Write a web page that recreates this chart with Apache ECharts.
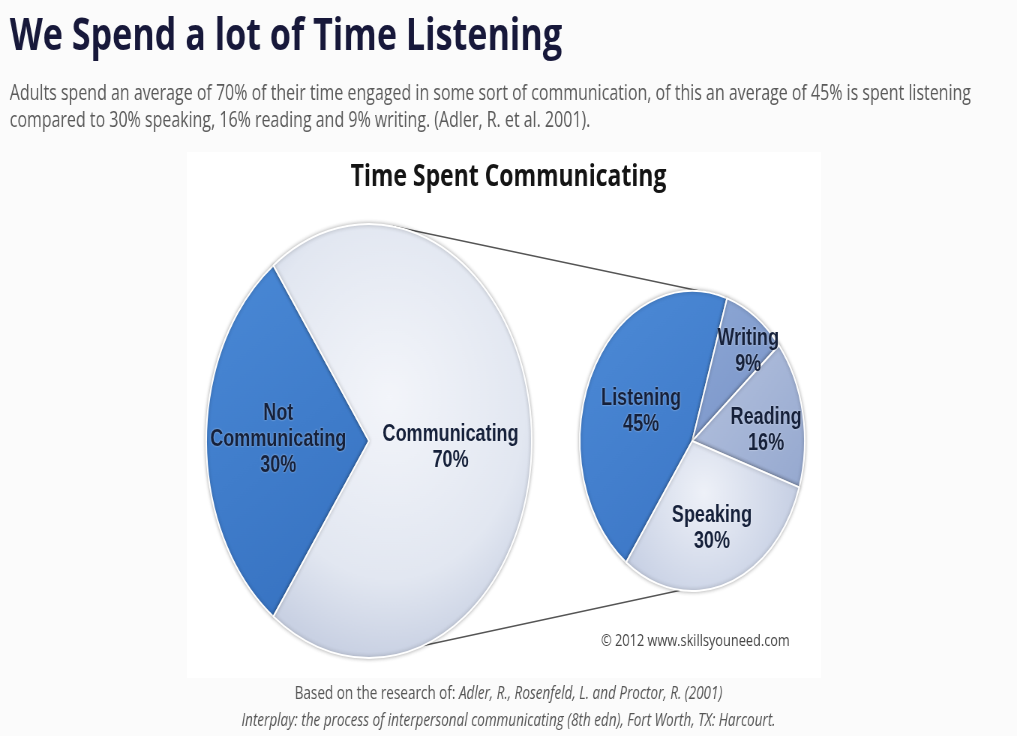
<!DOCTYPE html>
<html>
<head>
<meta charset="utf-8">
<script src="https://cdn.jsdelivr.net/npm/echarts@6/dist/echarts.min.js"></script>
<style>
  html, body { margin: 0; padding: 0; overflow: hidden; background: #fafafa; }
  #wrap { width: 1017px; height: 736px; overflow: hidden; }
  #chart { width: 1356px; height: 736px; transform: scaleX(0.75); transform-origin: 0 0; }
</style>
</head>
<body>
<div id="wrap"><div id="chart"></div></div>
<script>
// ---- data ----
const outerCategories = ['Not Communicating', 'Communicating'];
const outerValues = [30, 70];
const innerCategories = ['Listening', 'Writing', 'Reading', 'Speaking'];
const innerValues = [45, 9, 16, 30];

const mainTitle = 'We Spend a lot of Time Listening';
const introLines = [
  'Adults spend an average of 70% of their time engaged in some sort of communication, of this an average of 45% is spent listening',
  'compared to 30% speaking, 16% reading and 9% writing. (Adler, R. et al. 2001).'
];
const chartTitle = 'Time Spent Communicating';
const copyright = '\u00A9 2012 www.skillsyouneed.com';
const sourceLead = 'Based on the research of: ';
const sourceAuthors = 'Adler, R., Rosenfeld, L. and Proctor, R. (2001)';
const sourceBook = 'Interplay: the process of interpersonal communicating (8th edn), Fort Worth, TX: Harcourt.';

// ---- layout / style ----
const LEFT_C = [492, 441], LEFT_R = 217;
const RIGHT_C = [923, 441], RIGHT_R = 150;
const START_ANGLE = 234;
// label placement tweaks: radial scale and turn (degrees, + = counter-clockwise)
const LEFT_LABEL_SCALE = [1.085, 0.977];
const LEFT_LABEL_TURN = [-1, -3.4];
const RIGHT_LABEL_SCALE = [0.955, 1.49, 1.27, 1.17];
const RIGHT_LABEL_TURN = [3.2, -5.7, -4.5, -1.3];
const CONNECT = { leftTop: 81.6, rightTop: 77.7, leftBottom: -70.4, rightBottom: -96 };

const outerColors = [
  { type: 'linear', x: 0, y: 0, x2: 1, y2: 1, colorStops: [{ offset: 0, color: '#4a89d6' }, { offset: 1, color: '#3570bf' }] },
  { type: 'radial', x: 0.45, y: 0.4, r: 0.75, colorStops: [{ offset: 0, color: '#f3f5fa' }, { offset: 0.7, color: '#e2e7f1' }, { offset: 1, color: '#c9d1e3' }] }
];
const innerColors = [
  { type: 'linear', x: 0, y: 0, x2: 1, y2: 1, colorStops: [{ offset: 0, color: '#4d8bd7' }, { offset: 1, color: '#3a74c4' }] },
  { type: 'linear', x: 0, y: 0, x2: 1, y2: 1, colorStops: [{ offset: 0, color: '#8ea8d5' }, { offset: 1, color: '#7893c8' }] },
  { type: 'linear', x: 0, y: 0, x2: 1, y2: 1, colorStops: [{ offset: 0, color: '#b6c3df' }, { offset: 1, color: '#95a8cf' }] },
  { type: 'radial', x: 0.45, y: 0.35, r: 0.8, colorStops: [{ offset: 0, color: '#eef1f8' }, { offset: 1, color: '#c7d0e4' }] }
];

function pt(c, r, deg) {
  const a = deg * Math.PI / 180;
  return [c[0] + r * Math.cos(a), c[1] - r * Math.sin(a)];
}
function labelText(p) {
  return p.name.split(' ').join('\n') + '\n' + p.value + '%';
}
function placeLabel(center, scales, turns) {
  return function (p) {
    const lx = p.labelRect.x + p.labelRect.width / 2;
    const ly = p.labelRect.y + p.labelRect.height / 2;
    const vx = lx - center[0], vy = center[1] - ly;
    const d = Math.sqrt(vx * vx + vy * vy) * scales[p.dataIndex];
    const a = Math.atan2(vy, vx) + turns[p.dataIndex] * Math.PI / 180;
    const nx = center[0] + d * Math.cos(a), ny = center[1] - d * Math.sin(a);
    return { dx: nx - lx, dy: ny - ly };
  };
}

const labelStyle = {
  show: true,
  position: 'inside',
  formatter: labelText,
  fontFamily: 'Liberation Sans, Arial, sans-serif',
  fontWeight: 'bold',
  fontSize: 24,
  lineHeight: 26,
  color: '#15203a',
  textShadowColor: 'rgba(255,255,255,0.6)',
  textShadowBlur: 2
};
const sliceStyle = {
  borderColor: '#ffffff',
  borderWidth: 2,
  shadowBlur: 4,
  shadowColor: 'rgba(0,0,0,0.3)'
};

const t1 = pt(LEFT_C, LEFT_R, CONNECT.leftTop), t2 = pt(RIGHT_C, RIGHT_R, CONNECT.rightTop);
const b1 = pt(LEFT_C, LEFT_R, CONNECT.leftBottom), b2 = pt(RIGHT_C, RIGHT_R, CONNECT.rightBottom);

const footRich = {
  n: { fontFamily: 'Open Sans', fontWeight: 'normal', fontSize: 18, lineHeight: 27, color: '#555555' },
  i: { fontFamily: 'Open Sans', fontWeight: 'normal', fontStyle: 'italic', fontSize: 18, lineHeight: 27, color: '#555555' }
};

const chart = echarts.init(document.getElementById('chart'));
chart.setOption({
  backgroundColor: '#fbfbfb',
  animation: false,
  title: [
    { text: mainTitle, left: 13, top: 13, padding: 0,
      textStyle: { fontFamily: 'Open Sans', fontWeight: 'bold', fontSize: 45.5, lineHeight: 48, color: '#17183a' } },
    { text: introLines.join('\n'), left: 13, top: 80, padding: 0,
      textStyle: { fontFamily: 'Open Sans', fontWeight: 'normal', fontSize: 21.3, lineHeight: 27, color: '#595959' } },
    { text: chartTitle, left: 'center', top: 160, padding: 0,
      textStyle: { fontFamily: 'Open Sans', fontWeight: 'bold', fontSize: 30.6, lineHeight: 34, color: '#141414' } },
    { text: copyright, right: 303, top: 630, padding: 0,
      textStyle: { fontFamily: 'Open Sans', fontWeight: 'normal', fontSize: 17, lineHeight: 22, color: '#444444' } },
    { text: '{n|' + sourceLead + '}{i|' + sourceAuthors + '}\n{i|' + sourceBook + '}', left: 'center', top: 680, padding: 0,
      textStyle: { fontFamily: 'Open Sans', fontWeight: 'normal', fontSize: 18, lineHeight: 27, color: '#555555', rich: footRich } }
  ],
  graphic: [
    { type: 'rect', z: -10, silent: true, shape: { x: 249, y: 152, width: 846, height: 526 }, style: { fill: '#ffffff' } },
    { type: 'line', z: 1, silent: true, shape: { x1: t1[0], y1: t1[1], x2: t2[0], y2: t2[1] }, style: { stroke: '#555555', lineWidth: 1.6 } },
    { type: 'line', z: 1, silent: true, shape: { x1: b1[0], y1: b1[1], x2: b2[0], y2: b2[1] }, style: { stroke: '#555555', lineWidth: 1.6 } }
  ],
  series: [
    {
      name: 'All time', type: 'pie', center: LEFT_C, radius: LEFT_R,
      startAngle: START_ANGLE, clockwise: true, z: 3,
      label: labelStyle, labelLine: { show: false },
      labelLayout: placeLabel(LEFT_C, LEFT_LABEL_SCALE, LEFT_LABEL_TURN),
      emphasis: { disabled: true },
      itemStyle: sliceStyle,
      data: outerCategories.map((n, i) => ({ name: n, value: outerValues[i], itemStyle: { color: outerColors[i] } }))
    },
    {
      name: 'Communication', type: 'pie', center: RIGHT_C, radius: RIGHT_R,
      startAngle: START_ANGLE, clockwise: true, z: 3,
      label: labelStyle, labelLine: { show: false },
      labelLayout: placeLabel(RIGHT_C, RIGHT_LABEL_SCALE, RIGHT_LABEL_TURN),
      emphasis: { disabled: true },
      itemStyle: sliceStyle,
      data: innerCategories.map((n, i) => ({ name: n, value: innerValues[i], itemStyle: { color: innerColors[i] } }))
    }
  ]
});
</script>
</body>
</html>
